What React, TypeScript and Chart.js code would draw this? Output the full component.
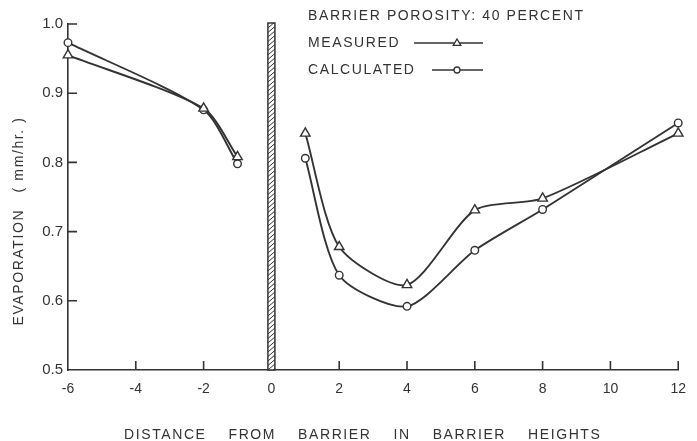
import { useEffect, useRef } from 'react';
import Chart from 'chart.js/auto';

const distances = [-6, -2, -1, 0, 1, 2, 4, 6, 8, 12];
const measured = [0.955, 0.878, 0.808, null, 0.842, 0.678, 0.623, 0.731, 0.748, 0.842];
const calculated = [0.973, 0.876, 0.798, null, 0.806, 0.637, 0.592, 0.673, 0.732, 0.857];
const xTickValues = [-6, -4, -2, 0, 2, 4, 6, 8, 10, 12];
const yTickValues = [0.5, 0.6, 0.7, 0.8, 0.9, 1.0];
const xTickMarks = [-4, -2, 2, 4, 6, 8, 10, 12];
const yTickMarks = [0.6, 0.7, 0.8, 0.9, 1.0];
const barrierPosition = 0;
const barrierTop = 1.0;
const legendHeader = 'BARRIER POROSITY: 40 PERCENT';
const seriesNames = ['MEASURED', 'CALCULATED'];
const xTitle = 'DISTANCE    FROM    BARRIER    IN    BARRIER    HEIGHTS';
const yTitle = 'EVAPORATION   ( mm/hr. )';

const INK = '#333333';
const FONT = '"Liberation Sans", Arial, sans-serif';

function drawMarker(ctx: CanvasRenderingContext2D, style: string, x: number, y: number, r: number) {
  ctx.beginPath();
  if (style === 'triangle') {
    ctx.moveTo(x, y - r);
    ctx.lineTo(x + r * 0.95, y + r * 0.6);
    ctx.lineTo(x - r * 0.95, y + r * 0.6);
    ctx.closePath();
  } else {
    ctx.arc(x, y, r, 0, Math.PI * 2);
  }
  ctx.fillStyle = '#fff';
  ctx.fill();
  ctx.stroke();
}

const decor = {
  id: 'decor',
  beforeDatasetsDraw(chart: any) {
    const ctx: CanvasRenderingContext2D = chart.ctx;
    const xs = chart.scales.x;
    const ys = chart.scales.y;
    const cx = xs.getPixelForValue(barrierPosition);
    const left = cx - 3.5;
    const w = 7;
    const top = ys.getPixelForValue(barrierTop) - 1;
    const bottom = chart.chartArea.bottom;
    ctx.save();
    ctx.fillStyle = '#fff';
    ctx.fillRect(left, top, w, bottom - top);
    ctx.beginPath();
    ctx.rect(left, top, w, bottom - top);
    ctx.clip();
    ctx.strokeStyle = INK;
    ctx.lineWidth = 1;
    ctx.beginPath();
    for (let yy = top - 10; yy < bottom + 10; yy += 4.5) {
      ctx.moveTo(left, yy + 6);
      ctx.lineTo(left + w, yy);
    }
    ctx.stroke();
    ctx.restore();
    ctx.save();
    ctx.strokeStyle = INK;
    ctx.lineWidth = 1.5;
    ctx.strokeRect(left, top, w, bottom - top);
    ctx.restore();
  },
  afterDraw(chart: any) {
    const ctx: CanvasRenderingContext2D = chart.ctx;
    const xs = chart.scales.x;
    const ys = chart.scales.y;
    const { left, bottom } = chart.chartArea;
    ctx.save();
    ctx.strokeStyle = INK;
    ctx.lineWidth = 1.6;
    ctx.beginPath();
    xTickMarks.forEach((v) => {
      const px = xs.getPixelForValue(v);
      ctx.moveTo(px, bottom);
      ctx.lineTo(px, bottom - 9);
    });
    yTickMarks.forEach((v) => {
      const py = ys.getPixelForValue(v);
      ctx.moveTo(left, py);
      ctx.lineTo(left + 9, py);
    });
    ctx.stroke();

    // legend
    ctx.fillStyle = INK;
    ctx.font = '14px ' + FONT;
    (ctx as any).letterSpacing = '1.6px';
    ctx.textAlign = 'left';
    ctx.textBaseline = 'middle';
    ctx.fillText(legendHeader, 308, 16);
    ctx.fillText(seriesNames[0], 308, 43);
    ctx.fillText(seriesNames[1], 308, 70);
    ctx.lineWidth = 1.6;
    ctx.beginPath();
    ctx.moveTo(414, 43);
    ctx.lineTo(483, 43);
    ctx.moveTo(432, 70);
    ctx.lineTo(483, 70);
    ctx.stroke();
    ctx.lineWidth = 1.3;
    drawMarker(ctx, 'triangle', 457, 43, 4);
    drawMarker(ctx, 'circle', 457, 70, 3);

    // axis titles
    ctx.fillStyle = INK;
    ctx.textAlign = 'left';
    ctx.textBaseline = 'alphabetic';
    ctx.fillText(xTitle, 124, 439);
    ctx.save();
    ctx.translate(19, 221);
    ctx.rotate(-Math.PI / 2);
    ctx.textAlign = 'center';
    ctx.textBaseline = 'middle';
    ctx.fillText(yTitle, 0, 0);
    ctx.restore();
    ctx.restore();
  },
};

export default function App() {
  const ref = useRef<HTMLCanvasElement | null>(null);
  useEffect(() => {
    if (!ref.current) return;
    const common = {
      borderColor: INK,
      borderWidth: 1.9,
      tension: 0.25,
      pointBackgroundColor: '#fff',
      pointBorderColor: INK,
      pointBorderWidth: 1.4,
      spanGaps: false,
      clip: false as any,
    };
    const chart = new Chart(ref.current, {
      type: 'line',
      data: {
        datasets: [
          {
            ...common,
            label: seriesNames[0],
            data: distances.map((d, i) => ({ x: d, y: measured[i] as any })),
            pointStyle: 'triangle',
            pointRadius: 5.5,
          },
          {
            ...common,
            label: seriesNames[1],
            data: distances.map((d, i) => ({ x: d, y: calculated[i] as any })),
            pointStyle: 'circle',
            pointRadius: 3.8,
          },
        ],
      },
      options: {
        animation: false,
        responsive: false,
        devicePixelRatio: 1,
        layout: { padding: { top: 24, right: 8, left: 0, bottom: 0 } },
        plugins: { legend: { display: false }, tooltip: { enabled: false } },
        scales: {
          x: {
            type: 'linear',
            min: -6,
            max: 12,
            afterBuildTicks: (s: any) => {
              s.ticks = xTickValues.map((value) => ({ value }));
            },
            afterFit: (s: any) => {
              s.height = 71;
            },
            ticks: {
              callback: (v: any) => String(v),
              font: { size: 14, family: FONT },
              color: INK,
              padding: 11,
              maxRotation: 0,
              autoSkip: false,
            },
            grid: { display: true, drawOnChartArea: false, drawTicks: false },
            border: { display: true, color: INK, width: 1.6 },
          },
          y: {
            type: 'linear',
            min: 0.5,
            max: 1.0,
            afterBuildTicks: (s: any) => {
              s.ticks = yTickValues.map((value) => ({ value }));
            },
            afterFit: (s: any) => {
              s.width = 68;
            },
            ticks: {
              callback: (v: any) => Number(v).toFixed(1),
              font: { size: 15, family: FONT },
              color: INK,
              padding: 5,
              autoSkip: false,
            },
            grid: { display: true, drawOnChartArea: false, drawTicks: false },
            border: { display: true, color: INK, width: 1.6 },
          },
        },
      },
      plugins: [decor],
    });
    return () => chart.destroy();
  }, []);
  return (
    <div style={{ position: 'absolute', left: 0, top: 0, width: 697, height: 441, background: '#fff' }}>
      <canvas ref={ref} width={697} height={441} style={{ display: 'block', width: 697, height: 441 }} />
    </div>
  );
}
